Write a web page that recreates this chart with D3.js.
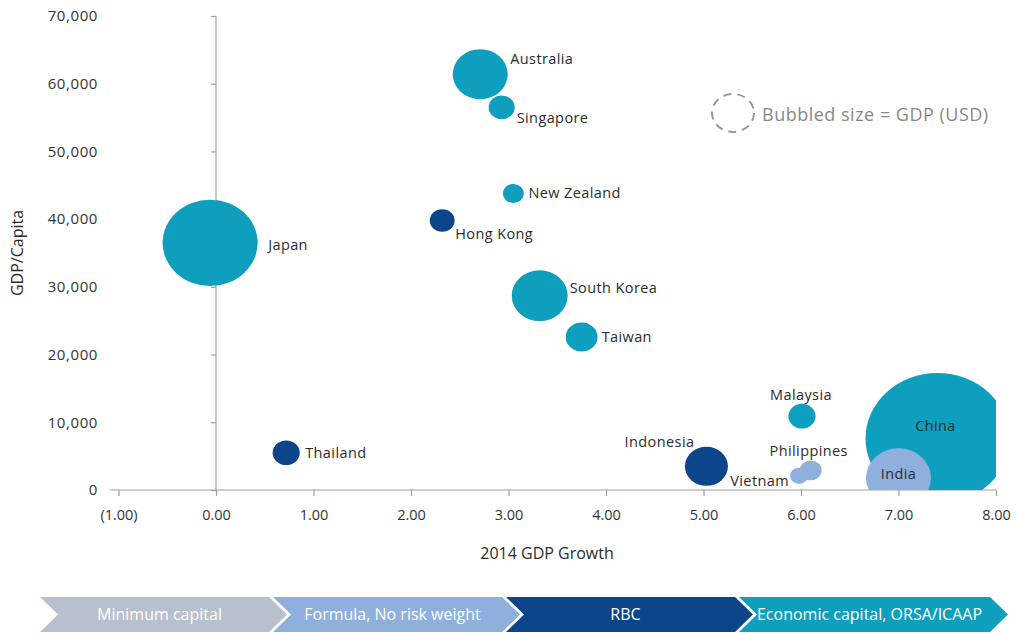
<!DOCTYPE html>
<html>
<head>
<meta charset="utf-8">
<script src="https://cdn.jsdelivr.net/npm/d3@7"></script>
<style>
  body { margin: 0; background: #fff; }
  svg text { font-family: "Open Sans", sans-serif; }
</style>
</head>
<body>
<svg id="chart"></svg>
<script>
// data
var countries = ["Japan", "Australia", "Singapore", "New Zealand", "Hong Kong", "South Korea", "Taiwan",
                 "Thailand", "Malaysia", "Indonesia", "Philippines", "Vietnam", "China", "India"];
var growth    = [-0.06, 2.71, 2.93, 3.05, 2.32, 3.32, 3.75, 0.72, 6.01, 5.03, 6.10, 5.98, 7.40, 7.00];
var gdpCapita = [36500, 61400, 56500, 43800, 39800, 28700, 22600, 5500, 10900, 3500, 2900, 2100, 7600, 1800];
var gdpBn     = [4530, 1520, 340, 220, 310, 1570, 510, 370, 370, 930, 240, 160, 10400, 2120];
var regime    = ["Economic capital, ORSA/ICAAP", "Economic capital, ORSA/ICAAP", "Economic capital, ORSA/ICAAP",
                 "Economic capital, ORSA/ICAAP", "RBC", "Economic capital, ORSA/ICAAP", "Economic capital, ORSA/ICAAP",
                 "RBC", "Economic capital, ORSA/ICAAP", "RBC", "Formula, No risk weight", "Formula, No risk weight",
                 "Economic capital, ORSA/ICAAP", "Formula, No risk weight"];

var stages = ["Minimum capital", "Formula, No risk weight", "RBC", "Economic capital, ORSA/ICAAP"];
var xTicks = [-1, 0, 1, 2, 3, 4, 5, 6, 7, 8];
var yTicks = [0, 10000, 20000, 30000, 40000, 50000, 60000, 70000];

// label placement (dx, dy from bubble centre, anchor)
var labelPos = {
  "Japan": [58, 7, "start"], "Australia": [30, -10, "start"], "Singapore": [15, 16, "start"],
  "New Zealand": [15, 5, "start"], "Hong Kong": [13, 19, "start"], "South Korea": [30, -3, "start"],
  "Taiwan": [20, 5, "start"], "Thailand": [19, 5, "start"], "Malaysia": [-1, -16, "middle"],
  "Indonesia": [-12, -19, "end"], "Philippines": [-2, -14, "middle"], "Vietnam": [-10, 10, "end"],
  "China": [-2, -8, "middle"], "India": [0, 1, "middle"]
};

var W = 1016, H = 633;
var svg = d3.select("#chart").attr("width", W).attr("height", H);

var x = d3.scaleLinear().domain([-1, 8]).range([118.5, 996]);
var y = d3.scaleLinear().domain([0, 70000]).range([490, 16]);
var r = d3.scaleSqrt().domain([0, 10400]).range([0, 72]);
var aspect = 1.1; // bubbles are drawn slightly wide

var color = d3.scaleOrdinal()
  .domain(stages)
  .range(["#b9c0cd", "#8fb0dd", "#0d458b", "#0e9fbf"]);

var rows = countries.map(function(c, i) {
  return { name: c, g: growth[i], pc: gdpCapita[i], gdp: gdpBn[i], regime: regime[i] };
});

// clip to plot area
svg.append("clipPath").attr("id", "plot")
  .append("rect")
  .attr("x", x(-1)).attr("y", y(70000))
  .attr("width", x(8) - x(-1)).attr("height", y(0) - y(70000));

// x axis
var xAxis = svg.append("g")
  .attr("transform", "translate(0," + y(0) + ")")
  .call(d3.axisBottom(x).tickValues(xTicks).tickSize(6).tickPadding(14)
    .tickFormat(function(d) { return d < 0 ? "(" + d3.format(".2f")(-d) + ")" : d3.format(".2f")(d); }));
xAxis.select(".domain").remove();
xAxis.append("line")
  .attr("x1", x(-1) - 9).attr("x2", x(8))
  .attr("stroke", "#a0a0a0").attr("stroke-width", 1.2);
xAxis.selectAll(".tick line").attr("stroke", "#a0a0a0").attr("stroke-width", 1.2);
xAxis.selectAll(".tick text").attr("fill", "#333").style("font-size", "14.5px");

// y axis, drawn at x = 0
var yAxis = svg.append("g")
  .attr("transform", "translate(" + x(0) + ",0)")
  .call(d3.axisLeft(y).tickValues(yTicks).tickSize(5).tickPadding(113).tickFormat(d3.format(",")));
yAxis.select(".domain").attr("stroke", "#a0a0a0").attr("stroke-width", 1.2).attr("d", "M0," + y(70000) + "V" + y(0));
yAxis.selectAll(".tick line").attr("stroke", "#a0a0a0").attr("stroke-width", 1.2);
yAxis.selectAll(".tick text").attr("fill", "#333").style("font-size", "15px").style("letter-spacing", "0.6px");

// bubbles
var bubbles = svg.append("g").attr("clip-path", "url(#plot)");
bubbles.selectAll("ellipse")
  .data(rows)
  .enter()
  .append("ellipse")
    .attr("cx", function(d) { return x(d.g); })
    .attr("cy", function(d) { return y(d.pc); })
    .attr("rx", function(d) { return r(d.gdp); })
    .attr("ry", function(d) { return r(d.gdp) / aspect; })
    .attr("fill", function(d) { return color(d.regime); });

// country labels
svg.append("g").selectAll("text")
  .data(rows)
  .enter()
  .append("text")
    .attr("x", function(d) { return x(d.g) + labelPos[d.name][0]; })
    .attr("y", function(d) { return y(d.pc) + labelPos[d.name][1]; })
    .attr("text-anchor", function(d) { return labelPos[d.name][2]; })
    .attr("fill", "#2b2b2b")
    .style("font-size", "14.5px")
    .style("letter-spacing", "0.4px")
    .text(function(d) { return d.name; });

// legend
svg.append("ellipse")
  .attr("cx", 733).attr("cy", 113).attr("rx", 21).attr("ry", 19)
  .attr("fill", "none").attr("stroke", "#999").attr("stroke-width", 2)
  .attr("stroke-dasharray", "8,6");
svg.append("text")
  .attr("x", 762).attr("y", 121)
  .attr("fill", "#888")
  .style("font-size", "18px")
  .style("letter-spacing", "0.5px")
  .text("Bubbled size = GDP (USD)");

// axis titles
svg.append("text")
  .attr("x", 547).attr("y", 559)
  .attr("text-anchor", "middle")
  .attr("fill", "#2b2b2b")
  .style("font-size", "16px")
  .text("2014 GDP Growth");
svg.append("text")
  .attr("transform", "translate(23,253) rotate(-90)")
  .attr("text-anchor", "middle")
  .attr("fill", "#2b2b2b")
  .style("font-size", "16px")
  .text("GDP/Capita");

// regime chevrons along the bottom; the last one runs on to the page edge
var band = d3.scaleBand().domain(stages).range([40, 40 + 4 * 233]);
var bandTop = 597, bandBot = 632, bandMid = (bandTop + bandBot) / 2, tip = 18, gap = 4;
var lastStage = stages[stages.length - 1];
function segEnd(d) { return band(d) + band.step() + (d === lastStage ? tip : -gap); }

var chev = svg.append("g").selectAll("g")
  .data(stages)
  .enter()
  .append("g");
chev.append("polygon")
  .attr("points", function(d) {
    var x0 = band(d), x1 = segEnd(d);
    return [[x0, bandTop], [x1, bandTop], [x1 + tip, bandMid], [x1, bandBot], [x0, bandBot], [x0 + tip, bandMid]].join(" ");
  })
  .attr("fill", function(d) { return color(d); });
chev.append("text")
  .attr("x", function(d) { return (band(d) + segEnd(d)) / 2 + 5; })
  .attr("y", bandMid + 5.5)
  .attr("text-anchor", "middle")
  .attr("fill", "#fff")
  .style("font-size", "16px")
  .text(function(d) { return d; });
</script>
</body>
</html>
